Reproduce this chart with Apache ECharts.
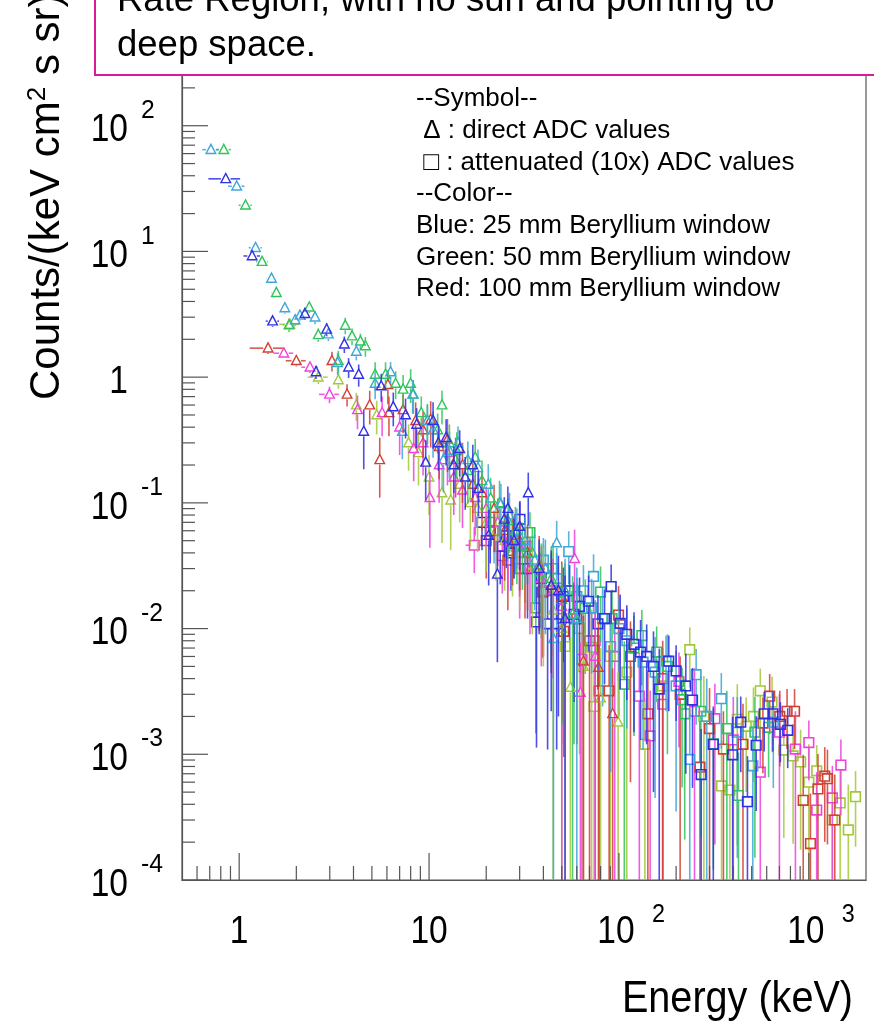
<!DOCTYPE html>
<html>
<head>
<meta charset="utf-8">
<script src="https://cdn.jsdelivr.net/npm/echarts@6/dist/echarts.min.js"></script>
<style>
html,body{margin:0;padding:0;background:#fff;}
#chart{width:874px;height:1022px;}
</style>
</head>
<body>
<div id="chart"></div>
<script>
// ---------------- DATA ----------------
// each point: [energy keV, counts, relative y error, relative x half-width]
const blueTri = [
  [0.85, 37.8, 0.06, 0.19], [1.17, 9.2, 0.07, 0.10], [1.50, 2.79, 0.10, 0.08], [2.22, 3.2, 0.10, 0.05],
  [2.54, 1.1, 0.12, 0.04], [2.89, 2.4, 0.12, 0.04], [3.58, 1.83, 0.15, 0.03], [3.77, 1.2, 0.18, 0.03],
  [4.26, 1.05, 0.20, 0.03], [4.53, 0.37, 0.50, 0.02], [5.6, 0.85, 0.25, 0.02], [6.48, 0.58, 0.30, 0.02],
  [7.52, 0.50, 0.35, 0.02], [8.6, 0.42, 0.35, 0.02], [9.6, 0.21, 0.50, 0.02], [10.5, 0.45, 0.40, 0.02],
  [11.2, 0.30, 0.40, 0.02], [12.3, 0.33, 0.40, 0.02], [13.5, 0.20, 0.40, 0.02], [14.5, 0.27, 0.40, 0.02],
  [15.5, 0.16, 0.45, 0.02], [17, 0.20, 0.45, 0.02], [18.2, 0.13, 0.40, 0.02], [20.6, 0.055, 0.60, 0.02],
  [22.9, 0.027, 0.80, 0.02], [24.9, 0.074, 0.50, 0.02], [26, 0.09, 0.50, 0.02], [28, 0.05, 0.50, 0.02],
  [30, 0.065, 0.55, 0.02], [33.3, 0.12, 0.45, 0.02], [38, 0.03, 0.70, 0.02], [44, 0.022, 0.90, 0.02],
  [48, 0.02, 0.90, 0.02], [52, 0.012, 1.20, 0.02]
];
const lightBlueTri = [
  [0.71, 64.5, 0.05, 0.10], [0.97, 33, 0.06, 0.10], [1.22, 10.7, 0.07, 0.08], [1.48, 6.1, 0.08, 0.06],
  [1.74, 3.55, 0.10, 0.05], [1.97, 2.85, 0.10, 0.04], [2.09, 3.1, 0.10, 0.04], [2.51, 3.0, 0.12, 0.04],
  [2.95, 2.2, 0.12, 0.03], [3.3, 1.3, 0.20, 0.03], [4.14, 1.6, 0.15, 0.03], [5.2, 0.89, 0.25, 0.02],
  [6.27, 1.1, 0.20, 0.02], [7.23, 0.37, 0.40, 0.02], [8.2, 0.73, 0.30, 0.02], [9.8, 0.45, 0.35, 0.02],
  [10.5, 0.38, 0.40, 0.02], [11.9, 0.22, 0.45, 0.02], [12.8, 0.26, 0.40, 0.02], [14.2, 0.30, 0.35, 0.02],
  [16, 0.22, 0.40, 0.02], [18.1, 0.19, 0.40, 0.02], [20.5, 0.14, 0.45, 0.02], [23.9, 0.098, 0.45, 0.02],
  [26.5, 0.08, 0.50, 0.02], [29, 0.06, 0.50, 0.02], [32, 0.05, 0.55, 0.02], [36, 0.035, 0.60, 0.02],
  [41, 0.03, 0.70, 0.02], [45.2, 0.0083, 1.30, 0.02], [47, 0.048, 0.50, 0.02], [52, 0.02, 0.80, 0.02],
  [60, 0.012, 1.10, 0.02]
];
const greenTri = [
  [0.83, 64.5, 0.05, 0.09], [1.08, 23.3, 0.05, 0.08], [1.32, 8.3, 0.07, 0.07], [1.57, 4.7, 0.08, 0.06],
  [1.83, 2.6, 0.12, 0.07], [2.34, 3.6, 0.10, 0.04], [2.61, 2.17, 0.12, 0.04], [3.33, 1.35, 0.20, 0.03],
  [3.62, 2.58, 0.15, 0.03], [3.93, 2.12, 0.15, 0.03], [4.35, 1.93, 0.15, 0.03], [4.62, 1.77, 0.18, 0.03],
  [5.2, 1.05, 0.25, 0.02], [5.9, 1.05, 0.25, 0.02], [6.67, 0.89, 0.25, 0.02], [7.3, 0.80, 0.30, 0.02],
  [8.0, 0.89, 0.30, 0.02], [8.26, 0.73, 0.30, 0.02], [9.1, 0.52, 0.35, 0.02], [9.8, 0.45, 0.35, 0.02],
  [11.1, 0.38, 0.35, 0.02], [11.7, 0.60, 0.30, 0.02], [12.8, 0.30, 0.40, 0.02], [14, 0.26, 0.40, 0.02],
  [16.0, 0.18, 0.45, 0.02], [17.5, 0.23, 0.40, 0.02], [19, 0.15, 0.45, 0.02], [21.1, 0.109, 0.45, 0.02],
  [23.5, 0.10, 0.50, 0.02], [26.1, 0.072, 0.50, 0.02], [28.5, 0.06, 0.55, 0.02], [31, 0.045, 0.55, 0.02],
  [35, 0.04, 0.60, 0.02], [39, 0.028, 0.70, 0.02], [44, 0.025, 0.80, 0.02], [50, 0.017, 0.90, 0.02],
  [57, 0.013, 1.00, 0.02]
];
const redTri = [
  [1.42, 1.7, 0.10, 0.20], [2.0, 1.35, 0.10, 0.12], [3.08, 1.35, 0.18, 0.04], [3.7, 0.73, 0.20, 0.05],
  [4.87, 0.60, 0.30, 0.03], [5.5, 0.22, 0.50, 0.02], [6.07, 0.87, 0.30, 0.02], [6.15, 0.52, 0.35, 0.02],
  [7.3, 0.55, 0.35, 0.02], [8.5, 0.45, 0.40, 0.02], [9.3, 0.38, 0.40, 0.02], [10.2, 0.46, 0.40, 0.02],
  [11.3, 0.28, 0.45, 0.02], [12.5, 0.32, 0.45, 0.02], [13.8, 0.22, 0.50, 0.02], [15, 0.20, 0.50, 0.02],
  [17, 0.14, 0.50, 0.02], [19, 0.12, 0.50, 0.02], [22, 0.09, 0.55, 0.02], [25, 0.06, 0.60, 0.02],
  [27.5, 0.055, 0.60, 0.02], [30, 0.05, 0.60, 0.02], [33, 0.04, 0.65, 0.02], [38, 0.032, 0.70, 0.02],
  [44, 0.022, 0.80, 0.02], [50, 0.018, 0.90, 0.02], [65, 0.0055, 1.30, 0.02], [78, 0.0049, 1.30, 0.02],
  [92.6, 0.0021, 1.30, 0.02]
];
const magentaTri = [
  [1.72, 1.55, 0.08, 0.12], [2.36, 1.2, 0.10, 0.10], [2.99, 0.73, 0.15, 0.12], [4.2, 0.55, 0.30, 0.03],
  [5.66, 0.52, 0.35, 0.03], [7.0, 0.40, 0.40, 0.02], [8.3, 0.27, 0.45, 0.02], [9.3, 0.30, 0.45, 0.02],
  [10.1, 0.11, 0.60, 0.02], [11.3, 0.20, 0.50, 0.02], [12.5, 0.25, 0.45, 0.02], [13.5, 0.16, 0.50, 0.02],
  [15.0, 0.126, 0.50, 0.02], [17.5, 0.11, 0.50, 0.02], [20, 0.09, 0.50, 0.02], [23, 0.07, 0.55, 0.02],
  [26, 0.05, 0.60, 0.02], [30, 0.045, 0.60, 0.02], [34, 0.03, 0.70, 0.02], [39, 0.025, 0.80, 0.02],
  [45, 0.02, 0.80, 0.02], [50, 0.015, 1.00, 0.02], [58.4, 0.036, 0.70, 0.02], [62.7, 0.0031, 1.50, 0.02],
  [75, 0.006, 1.20, 0.02]
];
const oliveTri = [
  [1.85, 2.63, 0.10, 0.12], [2.61, 1.0, 0.12, 0.12], [3.33, 0.95, 0.15, 0.05], [4.14, 0.60, 0.25, 0.04],
  [5.3, 0.50, 0.30, 0.03], [7.8, 0.30, 0.40, 0.02], [8.8, 0.25, 0.45, 0.02], [10.0, 0.16, 0.50, 0.02],
  [11.7, 0.12, 0.60, 0.02], [13.0, 0.105, 0.60, 0.02], [14.5, 0.14, 0.50, 0.02], [16.5, 0.10, 0.55, 0.02],
  [18, 0.09, 0.55, 0.02], [20, 0.07, 0.60, 0.02], [22.5, 0.06, 0.60, 0.02], [25, 0.05, 0.60, 0.02],
  [27.5, 0.045, 0.60, 0.02], [30, 0.04, 0.65, 0.02], [35, 0.03, 0.70, 0.02], [40, 0.025, 0.80, 0.02],
  [45, 0.014, 1.10, 0.02], [50, 0.01, 1.20, 0.02], [55.5, 0.0034, 1.50, 0.02], [65, 0.005, 1.40, 0.02],
  [80, 0.0028, 1.50, 0.02], [99, 0.0018, 1.50, 0.02]
];
const blueSq = [
  [19, 0.07, 0.40, 0.02], [21, 0.06, 0.45, 0.02], [23.7, 0.045, 0.50, 0.02], [25.5, 0.055, 0.45, 0.02],
  [27, 0.04, 0.50, 0.02], [30.1, 0.074, 0.40, 0.02], [33, 0.03, 0.60, 0.02], [36.8, 0.0113, 0.90, 0.02],
  [39, 0.025, 0.60, 0.02], [42.1, 0.0109, 0.90, 0.02], [47, 0.0109, 0.90, 0.02], [51, 0.018, 0.70, 0.02],
  [55, 0.02, 0.60, 0.02], [58, 0.013, 0.80, 0.02], [62, 0.015, 0.70, 0.02], [69.2, 0.0165, 0.60, 0.02],
  [77.5, 0.0109, 0.70, 0.02], [84, 0.012, 0.70, 0.02], [91, 0.0216, 0.50, 0.05], [101.5, 0.011, 0.70, 0.02],
  [110, 0.009, 0.70, 0.02], [120, 0.0075, 0.80, 0.02], [130, 0.0065, 0.80, 0.02], [140, 0.006, 0.80, 0.02],
  [152, 0.005, 0.90, 0.02], [163, 0.0033, 1.10, 0.02], [183, 0.0055, 0.60, 0.02], [200, 0.0046, 0.60, 0.02],
  [225, 0.0035, 0.80, 0.02], [244, 0.0027, 0.80, 0.02], [271, 0.00069, 1.30, 0.02], [314, 0.0012, 1.00, 0.02],
  [397, 0.00099, 1.00, 0.02], [438, 0.0018, 0.60, 0.02], [475, 0.00042, 1.30, 0.02], [528, 0.00118, 0.70, 0.02],
  [582, 0.0021, 0.50, 0.02], [647, 0.0021, 0.50, 0.02], [708, 0.00173, 0.50, 0.02], [774, 0.00155, 0.50, 0.02]
];
const lightBlueSq = [
  [22, 0.06, 0.45, 0.02], [28, 0.05, 0.50, 0.02], [33, 0.045, 0.50, 0.02], [40, 0.035, 0.50, 0.02],
  [47, 0.025, 0.60, 0.02], [54.4, 0.041, 0.45, 0.02], [60, 0.018, 0.70, 0.02], [65, 0.02, 0.60, 0.02],
  [71.8, 0.0146, 0.70, 0.02], [73.5, 0.026, 0.50, 0.02], [82, 0.012, 0.80, 0.02], [90.4, 0.0072, 0.90, 0.02],
  [100, 0.01, 0.80, 0.02], [110, 0.008, 0.80, 0.02], [134, 0.0054, 0.80, 0.02], [155, 0.0045, 0.90, 0.02],
  [177, 0.0055, 0.60, 0.02], [200, 0.0035, 0.90, 0.02], [236, 0.00091, 1.30, 0.02], [255, 0.0043, 0.60, 0.02],
  [290, 0.002, 1.00, 0.02], [346, 0.00277, 0.60, 0.02], [420, 0.0015, 0.90, 0.02], [507, 0.00081, 1.00, 0.02],
  [650, 0.0018, 0.70, 0.02]
];
const greenSq = [
  [21, 0.07, 0.40, 0.02], [25, 0.065, 0.40, 0.02], [29, 0.045, 0.50, 0.02], [34, 0.058, 0.45, 0.02],
  [36.5, 0.0146, 0.90, 0.02], [40, 0.03, 0.55, 0.02], [45, 0.03, 0.60, 0.02], [52, 0.02, 0.65, 0.02],
  [58, 0.012, 0.90, 0.02], [66.5, 0.0145, 0.70, 0.02], [80, 0.0195, 0.60, 0.02], [92, 0.012, 0.70, 0.02],
  [106.7, 0.0036, 1.20, 0.02], [120, 0.007, 0.80, 0.02], [132, 0.0088, 0.60, 0.02], [158, 0.0065, 0.60, 0.02],
  [180, 0.005, 0.80, 0.02], [215, 0.00272, 0.80, 0.02], [222, 0.0021, 0.90, 0.02], [270, 0.0022, 0.90, 0.02],
  [314, 0.00121, 0.90, 0.02], [370, 0.0016, 1.00, 0.02], [426, 0.00047, 1.20, 0.02], [520, 0.0015, 0.90, 0.02],
  [614, 0.00164, 0.60, 0.02]
];
const redSq = [
  [20, 0.05, 0.50, 0.02], [26, 0.035, 0.60, 0.02], [32, 0.03, 0.60, 0.02], [39.6, 0.0195, 0.70, 0.02],
  [45, 0.02, 0.70, 0.02], [51.2, 0.0095, 0.90, 0.02], [60, 0.012, 0.90, 0.02], [70, 0.008, 1.00, 0.02],
  [78.7, 0.0032, 1.30, 0.02], [88.8, 0.0032, 1.30, 0.02], [99.5, 0.0128, 0.70, 0.02], [115, 0.006, 0.90, 0.02],
  [142, 0.0021, 1.20, 0.02], [170, 0.004, 1.00, 0.02], [210, 0.003, 1.00, 0.02], [267, 0.00079, 1.30, 0.02],
  [300, 0.0016, 1.10, 0.02], [355, 0.0011, 1.00, 0.02], [450, 0.0012, 1.10, 0.02], [573, 0.00177, 0.60, 0.02],
  [622, 0.0029, 0.50, 0.02], [703, 0.0020, 0.60, 0.02], [768, 0.0022, 0.50, 0.02], [841, 0.0022, 0.50, 0.02],
  [934, 0.00043, 1.30, 0.02], [1020, 0.000195, 1.50, 0.02], [1117, 0.00053, 0.90, 0.02], [1213, 0.00067, 0.70, 0.02],
  [1253, 0.00064, 0.70, 0.02], [1370, 0.0003, 1.30, 0.02]
];
const magentaSq = [
  [17.3, 0.046, 0.40, 0.10], [24.3, 0.038, 0.50, 0.02], [30, 0.03, 0.60, 0.02], [40, 0.02, 0.70, 0.02],
  [50, 0.012, 0.90, 0.02], [63.9, 0.0057, 1.20, 0.02], [75, 0.008, 1.10, 0.02], [95, 0.006, 1.20, 0.02],
  [128, 0.0029, 1.20, 0.02], [146, 0.0014, 1.30, 0.02], [170, 0.0025, 1.20, 0.02], [207, 0.0038, 0.70, 0.02],
  [250, 0.0022, 1.20, 0.02], [320, 0.00192, 0.90, 0.02], [400, 0.0013, 1.20, 0.02], [555, 0.00072, 1.30, 0.02],
  [700, 0.0015, 1.00, 0.02], [850, 0.0011, 1.00, 0.02], [1000, 0.00124, 0.50, 0.02], [1100, 0.00036, 1.00, 0.02],
  [1330, 0.00045, 0.80, 0.02], [1475, 0.00082, 0.60, 0.02]
];
const oliveSq = [
  [32, 0.04, 0.60, 0.02], [40, 0.02, 0.70, 0.02], [52.1, 0.0072, 1.00, 0.02], [62, 0.01, 0.90, 0.02],
  [71.8, 0.0071, 1.00, 0.02], [73.9, 0.0024, 1.50, 0.02], [90, 0.006, 1.10, 0.02], [110, 0.0045, 1.20, 0.02],
  [137, 0.0012, 1.30, 0.02], [170, 0.0035, 1.00, 0.02], [236, 0.0068, 0.50, 0.02], [280, 0.002, 1.10, 0.02],
  [347, 0.00056, 1.30, 0.02], [384, 0.00052, 1.30, 0.02], [420, 0.0019, 0.90, 0.02], [468, 0.00167, 0.70, 0.02],
  [511, 0.0020, 0.70, 0.02], [555, 0.0032, 0.50, 0.02], [640, 0.0026, 0.60, 0.02], [738, 0.00108, 0.80, 0.02],
  [826, 0.00097, 0.80, 0.02], [905, 0.00087, 0.80, 0.02], [1000, 0.0006, 1.00, 0.02], [1100, 0.00074, 0.60, 0.02],
  [1330, 0.0003, 1.30, 0.02], [1462, 0.00041, 0.80, 0.02], [1614, 0.00025, 1.30, 0.02], [1762, 0.00046, 0.60, 0.02]
];

// axis ranges and tick values
const X_MIN = 0.5, X_MAX = 2000;
const Y_MIN = 1e-4, Y_MAX = 1e3;
const X_MAJOR = [1, 10, 100, 1000];
const X_MINOR = [0.6, 0.7, 0.8, 0.9, 2, 3, 4, 5, 6, 7, 8, 9, 20, 30, 40, 50, 60, 70, 80, 90,
                 200, 300, 400, 500, 600, 700, 800, 900];
const Y_MAJOR = [1e-4, 1e-3, 1e-2, 1e-1, 1, 10, 100];
const Y_MANTISSA = [2, 3, 4, 5, 6, 7, 8, 9];
// tick labels: [base, exponent]
const X_TICK_LABELS = [['1', ''], ['10', ''], ['10', '2'], ['10', '3']];
const Y_TICK_LABELS = [['10', '-4'], ['10', '-3'], ['10', '-2'], ['10', '-1'], ['1', ''], ['10', '1'], ['10', '2']];

// text
const TITLE_LINES = ['Rate Region, with no sun and pointing to', 'deep space.'];
const LEGEND_LINES = ['--Symbol--', ' \u0394 : direct ADC values', ' \u25A1 : attenuated (10x) ADC values', '--Color--',
  'Blue: 25 mm Beryllium window', 'Green: 50 mm Beryllium window', 'Red: 100 mm Beryllium window'];
const X_TITLE = 'Energy (keV)';

// ---------------- STYLE ----------------
const COL = {
  blue: '#2f2fe6', lightBlue: '#3fa6d8', green: '#2fc45a', red: '#d04030', magenta: '#f040e0', olive: '#a2c83a'
};
const F_TX = "'Liberation Sans',Arial,sans-serif";
const AXIS_COL = '#555';

function pointRenderer(shape, color) {
  return function (params, api) {
    const e = api.value(0), c = api.value(1), ry = api.value(2), rx = api.value(3);
    const p = api.coord([e, c]);
    const top = api.coord([e, c * (1 + ry)])[1];
    const loVal = c * (1 - ry);
    const bot = api.coord([e, loVal > Y_MIN ? loVal : Y_MIN])[1];
    const left = api.coord([e * (1 - rx), c])[0];
    const right = api.coord([e * (1 + rx), c])[0];
    const s = 4.8;
    const ls = () => ({ stroke: color, lineWidth: 1.6, opacity: 0.85 });
    const ch = [];
    if (top < p[1] - s) ch.push({ type: 'line', shape: { x1: p[0], y1: top, x2: p[0], y2: p[1] - s }, style: ls() });
    if (bot > p[1] + s) ch.push({ type: 'line', shape: { x1: p[0], y1: p[1] + s, x2: p[0], y2: bot }, style: ls() });
    if (left < p[0] - s) ch.push({ type: 'line', shape: { x1: left, y1: p[1], x2: p[0] - s, y2: p[1] }, style: ls() });
    if (right > p[0] + s) ch.push({ type: 'line', shape: { x1: p[0] + s, y1: p[1], x2: right, y2: p[1] }, style: ls() });
    if (shape === 'tri') {
      ch.push({ type: 'polygon', shape: { points: [[p[0], p[1] - s - 0.5], [p[0] + s, p[1] + s - 1], [p[0] - s, p[1] + s - 1]] },
        style: { fill: 'none', stroke: color, lineWidth: 1.4 } });
    } else {
      ch.push({ type: 'rect', shape: { x: p[0] - s, y: p[1] - s, width: 2 * s, height: 2 * s },
        style: { fill: 'none', stroke: color, lineWidth: 1.6 } });
    }
    return { type: 'group', children: ch };
  };
}

const groups = [
  { d: oliveSq, shape: 'sq', c: COL.olive }, { d: magentaSq, shape: 'sq', c: COL.magenta },
  { d: redSq, shape: 'sq', c: COL.red }, { d: greenSq, shape: 'sq', c: COL.green },
  { d: lightBlueSq, shape: 'sq', c: COL.lightBlue }, { d: blueSq, shape: 'sq', c: COL.blue },
  { d: oliveTri, shape: 'tri', c: COL.olive }, { d: magentaTri, shape: 'tri', c: COL.magenta },
  { d: redTri, shape: 'tri', c: COL.red }, { d: greenTri, shape: 'tri', c: COL.green },
  { d: lightBlueTri, shape: 'tri', c: COL.lightBlue }, { d: blueTri, shape: 'tri', c: COL.blue }
];

// tick marks (drawn through the axis scales)
const tickData = [];
X_MAJOR.forEach(v => tickData.push([v, Y_MIN, 0, 1]));
X_MINOR.forEach(v => tickData.push([v, Y_MIN, 0, 0]));
Y_MAJOR.forEach(v => {
  tickData.push([X_MIN, v, 1, 1]);
  Y_MANTISSA.forEach(m => tickData.push([X_MIN, v * m, 1, 0]));
});

const series = groups.map(g => ({
  type: 'custom', coordinateSystem: 'cartesian2d', clip: true,
  renderItem: pointRenderer(g.shape, g.c), encode: { x: 0, y: 1 }, data: g.d, silent: true
}));
series.push({
  type: 'custom', coordinateSystem: 'cartesian2d', clip: false, z: 5, silent: true,
  encode: { x: 0, y: 1 }, data: tickData,
  renderItem: function (params, api) {
    const p = api.coord([api.value(0), api.value(1)]);
    const isY = api.value(2) === 1, major = api.value(3) === 1;
    const shape = isY
      ? { x1: p[0], y1: p[1], x2: p[0] + (major ? 26 : 13), y2: p[1] }
      : { x1: p[0], y1: p[1], x2: p[0], y2: p[1] - (major ? 27 : 14) };
    return { type: 'line', shape: shape, style: { stroke: AXIS_COL, lineWidth: 1.2 } };
  }
});

const option = {
  backgroundColor: '#fff',
  animation: false,
  grid: { left: 182, right: 8, top: -6, bottom: 142, show: true, borderColor: AXIS_COL, borderWidth: 1.2, backgroundColor: 'transparent' },
  xAxis: {
    type: 'log', logBase: 10, min: X_MIN, max: X_MAX,
    axisLine: { show: true, lineStyle: { color: AXIS_COL, width: 1.2 } },
    axisTick: { show: false }, splitLine: { show: false }, minorTick: { show: false },
    axisLabel: { show: false }
  },
  yAxis: {
    type: 'log', logBase: 10, min: Y_MIN, max: Y_MAX,
    axisLine: { show: true, lineStyle: { color: AXIS_COL, width: 1.2 } },
    axisTick: { show: false }, splitLine: { show: false }, minorTick: { show: false },
    axisLabel: { show: false }
  },
  series: series
};

const chart = echarts.init(document.getElementById('chart'), null, { renderer: 'canvas' });
chart.setOption(option);

// ---- text: tick labels placed through the axis scales, titles, legend ----
const LBL_SIZE = 39, SUP_SIZE = 26, CONDENSE = 0.86;
const g = [];
function txt(x, y, text, size, align, vAlign, scaleX, extra) {
  return Object.assign({ type: 'text', z: 101, x: x, y: y, scaleX: scaleX || 1,
    style: { text: text, fontSize: size, fontFamily: F_TX, fill: '#000', align: align, verticalAlign: vAlign } }, extra || {});
}
X_MAJOR.forEach((v, i) => {
  const p = chart.convertToPixel({ gridIndex: 0 }, [v, Y_MIN]);
  const lab = X_TICK_LABELS[i];
  const cx = lab[1] ? p[0] - 3 : p[0];
  g.push(txt(cx, p[1] + 52, lab[0], LBL_SIZE, 'center', 'middle', CONDENSE));
  if (lab[1]) g.push(txt(p[0] + 33, p[1] + 35, lab[1], SUP_SIZE, 'left', 'middle', 0.9));
});
Y_MAJOR.forEach((v, i) => {
  const p = chart.convertToPixel({ gridIndex: 0 }, [X_MIN, v]);
  const lab = Y_TICK_LABELS[i];
  g.push(txt(128, p[1] + 5, lab[0], LBL_SIZE, 'right', 'middle', CONDENSE));
  if (lab[1]) g.push(txt(141, p[1] - 15, lab[1], SUP_SIZE, 'left', 'middle', 0.95));
});
g.push({ type: 'rect', z: 100, shape: { x: 95, y: -20, width: 820, height: 95 }, style: { fill: '#fff', stroke: '#dd1a96', lineWidth: 2 } });
g.push(txt(117, 1, TITLE_LINES[0], 36.5, 'left', 'middle'));
g.push(txt(117, 46, TITLE_LINES[1], 36.5, 'left', 'middle'));
g.push({ type: 'text', z: 101, x: 47, y: 400, rotation: Math.PI / 2,
  style: { text: '{a|Counts/(keV cm}{s|2}{a| s sr)}', align: 'left', verticalAlign: 'middle',
    rich: { a: { fontSize: 42, fontFamily: F_TX, fill: '#000', lineHeight: 44 },
            s: { fontSize: 26, fontFamily: F_TX, fill: '#000', verticalAlign: 'top', lineHeight: 26 } } } });
g.push(txt(853, 1000, X_TITLE, 44, 'right', 'middle', 0.9));
LEGEND_LINES.forEach((t, i) => g.push(txt(416, 99 + i * 31.7, t, 26, 'left', 'middle')));
chart.setOption({ graphic: g });
</script>
</body>
</html>
